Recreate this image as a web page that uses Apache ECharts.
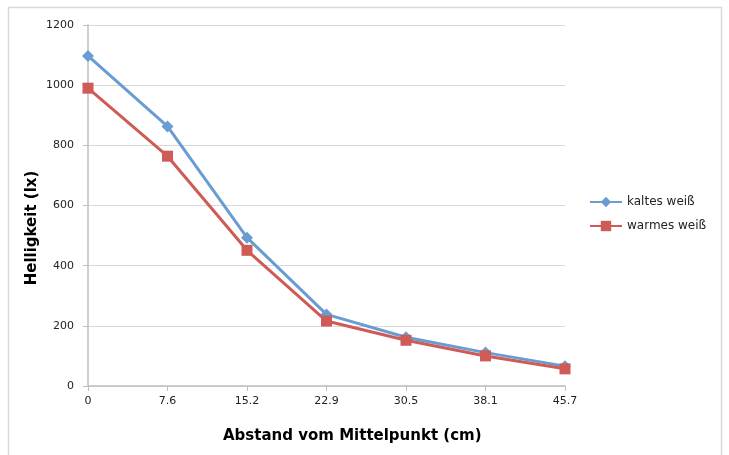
<!DOCTYPE html>
<html><head><meta charset="utf-8">
<script src="https://cdn.jsdelivr.net/npm/echarts@6/dist/echarts.min.js"></script>
<style>html,body{margin:0;padding:0;background:#fff}#c{width:729px;height:455px}</style>
</head><body><div id="c"></div>
<script>
const categories = ['0', '7.6', '15.2', '22.9', '30.5', '38.1', '45.7'];
const kaltes = [1097, 863, 493, 238, 162, 111, 66];
const warmes = [990, 764, 451, 216, 152, 100, 57];
const seriesNames = ['kaltes weiß', 'warmes weiß'];

const chart = echarts.init(document.getElementById('c'));
const font = 'DejaVu Sans, Verdana, sans-serif';
chart.setOption({
  animation: false,
  backgroundColor: '#fff',
  graphic: [
    {type: 'rect', shape: {x: 8.5, y: 7.5, width: 713, height: 460}, style: {fill: 'none', stroke: '#d9d9d9', lineWidth: 1.5}, silent: true},
    {type: 'text', left: 223, top: 429, style: {text: 'Abstand vom Mittelpunkt (cm)', font: 'bold 15px ' + font, fill: '#000'}},
    {type: 'text', x: 32, y: 228, rotation: Math.PI / 2, style: {text: 'Helligkeit (lx)', font: 'bold 15px ' + font, fill: '#000', align: 'center', verticalAlign: 'middle'}}
  ],
  grid: {left: 88, right: 164, top: 25, bottom: 69, containLabel: false},
  legend: {
    orient: 'vertical', left: 584, top: 191, itemGap: 12, itemWidth: 32, itemHeight: 13,
    textStyle: {fontFamily: font, fontSize: 12, color: '#222'},
    data: seriesNames
  },
  xAxis: {
    type: 'category', data: categories, boundaryGap: false,
    axisLine: {lineStyle: {color: '#bfbfbf', width: 1.5}},
    axisTick: {show: true, length: 5, alignWithLabel: true, lineStyle: {color: '#bfbfbf'}},
    axisLabel: {fontFamily: font, fontSize: 11, color: '#222', margin: 10},
    splitLine: {show: false}
  },
  yAxis: {
    type: 'value', min: 0, max: 1200, interval: 200,
    axisLine: {show: true, lineStyle: {color: '#bfbfbf', width: 1.5}},
    axisTick: {show: true, length: 5, lineStyle: {color: '#bfbfbf'}},
    axisLabel: {fontFamily: font, fontSize: 11, color: '#222', margin: 14, formatter: v => String(v)},
    splitLine: {lineStyle: {color: '#d9d9d9', width: 1}}
  },
  series: [
    {name: seriesNames[0], type: 'line', data: kaltes, symbol: 'diamond', symbolSize: 12,
     lineStyle: {color: '#6a9cd4', width: 3}, itemStyle: {color: '#6a9cd4'}},
    {name: seriesNames[1], type: 'line', data: warmes, symbol: 'rect', symbolSize: 11,
     lineStyle: {color: '#cf5b56', width: 3}, itemStyle: {color: '#cf5b56'}}
  ]
});
</script></body></html>
